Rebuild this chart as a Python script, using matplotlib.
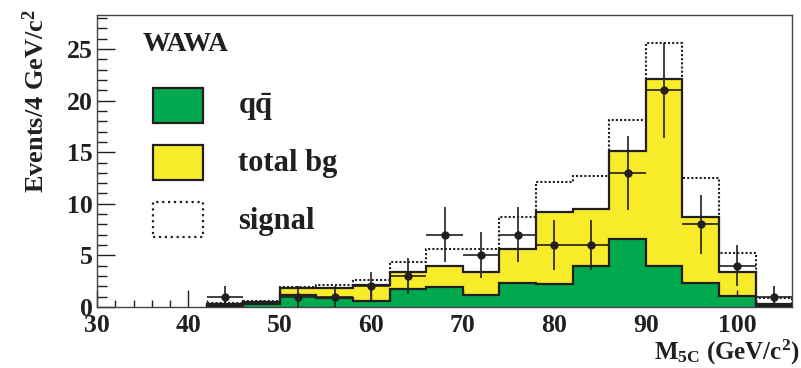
import numpy as np
import matplotlib
matplotlib.use("Agg")
import matplotlib.pyplot as plt
from matplotlib.patches import Rectangle

plt.rcParams['font.family'] = 'Liberation Serif'
plt.rcParams['font.weight'] = 'bold'
plt.rcParams['mathtext.fontset'] = 'custom'
plt.rcParams['mathtext.rm'] = 'Liberation Serif:bold'
plt.rcParams['mathtext.it'] = 'Liberation Serif:bold'
plt.rcParams['mathtext.bf'] = 'Liberation Serif:bold'

# 4 GeV bins from 42 to 106
edges = np.arange(42, 107, 4)
total_bg = [0.3, 0.5, 1.8, 1.85, 2.1, 3.4, 4.0, 3.4, 5.6, 9.2, 9.5, 15.1, 22.1, 8.7, 3.4, 0.3]
qqbar = [0.1, 0.25, 1.15, 0.9, 0.6, 1.75, 1.9, 1.15, 2.35, 2.2, 4.0, 6.55, 4.0, 2.3, 1.1, 0.05]
signal = [0.35, 0.6, 1.9, 2.1, 2.6, 4.4, 5.6, 5.6, 8.7, 12.1, 12.65, 18.15, 25.6, 12.5, 5.2, 0.9]
data = [1, 0, 1, 1, 2, 3, 7, 5, 7, 6, 6, 13, 21, 8, 4, 1]

green = '#00A84E'
yellow = '#F8EB2A'
ink = '#231F20'

fig = plt.figure(figsize=(8.01, 3.68), dpi=100)
ax = fig.add_axes([0.121, 0.166, 0.868, 0.793])

ax.stairs(total_bg, edges, fill=True, color=yellow, baseline=0, zorder=1)
ax.stairs(qqbar, edges, fill=True, color=green, baseline=0, zorder=2)
ax.stairs(total_bg, edges, color=ink, lw=1.6, baseline=0, zorder=3)
ax.stairs(qqbar, edges, color=ink, lw=1.6, baseline=0, zorder=3)
ax.stairs(signal, edges, color=ink, lw=1.5, ls=(0, (1, 1)), baseline=0, zorder=4)

centers = (edges[:-1] + edges[1:]) / 2
counts = np.array(data, dtype=float)
m = counts > 0
ax.errorbar(centers[m], counts[m], yerr=np.sqrt(counts[m]), xerr=2,
            fmt='o', color=ink, ms=5, elinewidth=1.2, capsize=0, zorder=5)

ax.set_xlim(30, 106)
ax.set_ylim(0, 28.3)
ax.set_xticks(np.arange(30, 101, 10))
ax.set_xticks(np.arange(30, 106, 2), minor=True)
ax.set_yticks(np.arange(0, 26, 5))
ax.set_yticks(np.arange(0, 29, 1), minor=True)
ax.tick_params(axis='both', which='both', direction='in', top=False, right=False,
               colors=ink, labelsize=18.5, width=1)
ax.tick_params(axis='y', which='major', length=13, pad=3)
ax.tick_params(axis='y', which='minor', length=7)
ax.tick_params(axis='x', which='major', length=12, pad=5)
ax.tick_params(axis='x', which='minor', length=5)
for s in ax.spines.values():
    s.set_linewidth(1.0)
    s.set_color('#444444')

fig.text(0.044, 0.975, r'Events/4 GeV/c$^{2}$', rotation=90, ha='center', va='top',
         fontsize=19, color=ink)
fig.text(0.998, 0.024, r'M$_{5C}$ (GeV/c$^{2}$)', ha='right', va='baseline',
         fontsize=18, color=ink)

# legend
ax.text(0.066, 0.90, 'WAWA', transform=ax.transAxes, fontsize=20, va='center', color=ink)
boxes = [(0.630, green, '-', r'q$\bar{\mathrm{q}}$'),
         (0.435, yellow, '-', 'total bg'),
         (0.238, 'white', ':', 'signal')]
for y0, fc, ls, lab in boxes:
    ax.add_patch(Rectangle((0.0806, y0), 0.0719, 0.120, transform=ax.transAxes,
                           facecolor=fc, edgecolor=ink, lw=1.6, ls=ls, zorder=6))
    ax.text(0.203, y0 + 0.055, lab, transform=ax.transAxes, fontsize=22,
            va='center', color=ink)

fig.savefig('out.png', dpi=100)
